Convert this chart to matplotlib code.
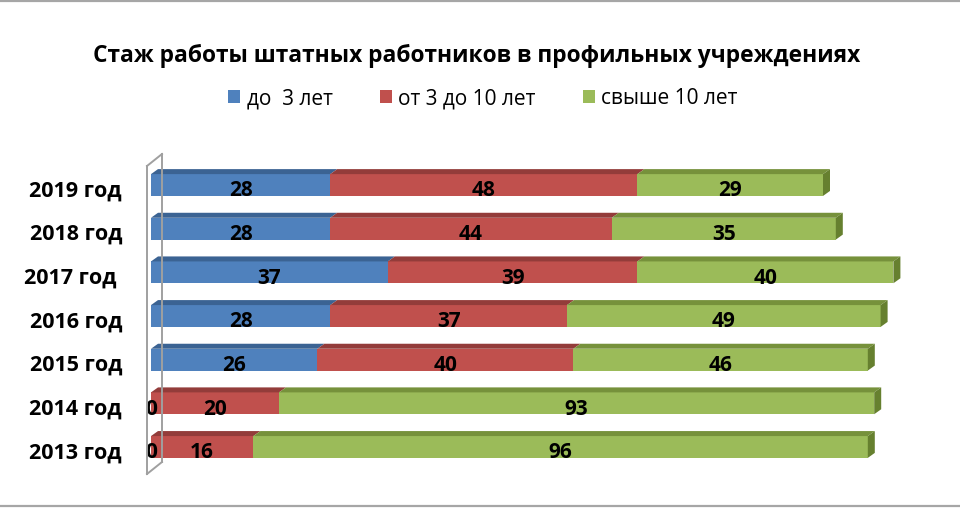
import numpy as np
import matplotlib.pyplot as plt
import matplotlib.transforms as mtransforms
from matplotlib.patches import Polygon
from matplotlib.lines import Line2D

plt.rcParams['font.family'] = ['Open Sans', 'DejaVu Sans']

title = 'Стаж работы штатных работников в профильных учреждениях'
years = ['2013 год', '2014 год', '2015 год', '2016 год', '2017 год ', '2018 год', '2019 год']
series_names = ['до  3 лет', 'от 3 до 10 лет', 'свыше 10 лет']
up_to_3 = [0, 0, 26, 28, 37, 28, 28]
from_3_to_10 = [16, 20, 40, 37, 39, 44, 48]
over_10 = [96, 93, 46, 49, 40, 35, 29]

front = ['#4F81BD', '#C0504D', '#9BBB59']
top = ['#3B6393', '#933C3A', '#76913B']
side = ['#375A85', '#853634', '#66802F']

W, H = 960, 510
fig = plt.figure(figsize=(W / 100, H / 100), dpi=100)
ax = fig.add_axes([151 / W, 1 - 469.8 / H, 768 / W, (469.8 - 164.2) / H])
ax.set_xlim(0, 120)
ax.set_ylim(-0.5, 6.5)
ax.axis('off')

# depth of the 3d faces, in data units (7px right, 5px up)
p0 = ax.transData.transform((0, 0))
px_x = ax.transData.transform((1, 0))[0] - p0[0]
px_y = ax.transData.transform((0, 1))[1] - p0[1]
dx, dy = 7 / px_x, 5 / px_y

h = 0.5
ypos = np.arange(len(years))
data = [up_to_3, from_3_to_10, over_10]
left = np.zeros(len(years))
handles = []
lab_tr = mtransforms.offset_copy(ax.transData, fig=fig, x=0, y=-3.5, units='points')
for s, vals in enumerate(data):
    vals = np.array(vals, dtype=float)
    b = ax.barh(ypos, vals, left=left, height=h, color=front[s], label=series_names[s], zorder=3)
    handles.append(b)
    for i, (l, w) in enumerate(zip(left, vals)):
        yt = ypos[i] + h / 2
        if w > 0:
            ax.add_patch(Polygon([(l, yt), (l + w, yt), (l + w + dx, yt + dy), (l + dx, yt + dy)],
                                 closed=True, facecolor=top[s], edgecolor='none', zorder=3))
        ax.text(l + w / 2, ypos[i], f'{w:.0f}', ha='center', va='center', fontsize=15,
                fontweight='bold', color='black', transform=lab_tr, zorder=5)
    left = left + vals

# right side faces of the last segment
for i, r in enumerate(left):
    yb, yt = ypos[i] - h / 2, ypos[i] + h / 2
    ax.add_patch(Polygon([(r, yb), (r, yt), (r + dx, yt + dy), (r + dx, yb + dy)],
                         closed=True, facecolor=side[2], edgecolor='none', zorder=3))

# category labels
cat_tr = mtransforms.blended_transform_factory(fig.transFigure, lab_tr)
for i, y in enumerate(years):
    fig.text(122 / W, ypos[i], y, ha='right', va='center', fontsize=15.5, fontweight='bold',
             transform=cat_tr)

# 3d wall outline
wall = dict(color='#A0A0A0', lw=1.4, zorder=1)
for xs, ys in [((147, 147), (167, 475)), ((162, 162), (155, 463)),
               ((147, 162), (167, 155)), ((147, 162), (475, 463))]:
    fig.add_artist(Line2D(np.array(xs) / W, 1 - np.array(ys) / H, transform=fig.transFigure, **wall))

# border lines
for yy in (2, 507):
    fig.add_artist(Line2D([0, 1], [1 - yy / H] * 2, transform=fig.transFigure, color='#A6A6A6', lw=1.6))

fig.text(477 / W, 1 - 56 / H, title, ha='center', va='center', fontsize=16.4, fontweight='bold')
fig.legend(handles=handles, labels=series_names, loc='center', bbox_to_anchor=(483 / W, 1 - 99 / H),
           ncol=3, frameon=False, fontsize=15, handlelength=0.57, handleheight=0.57,
           handletextpad=0.33, columnspacing=2.25, borderpad=0)

fig.savefig('out.png', dpi=100)
